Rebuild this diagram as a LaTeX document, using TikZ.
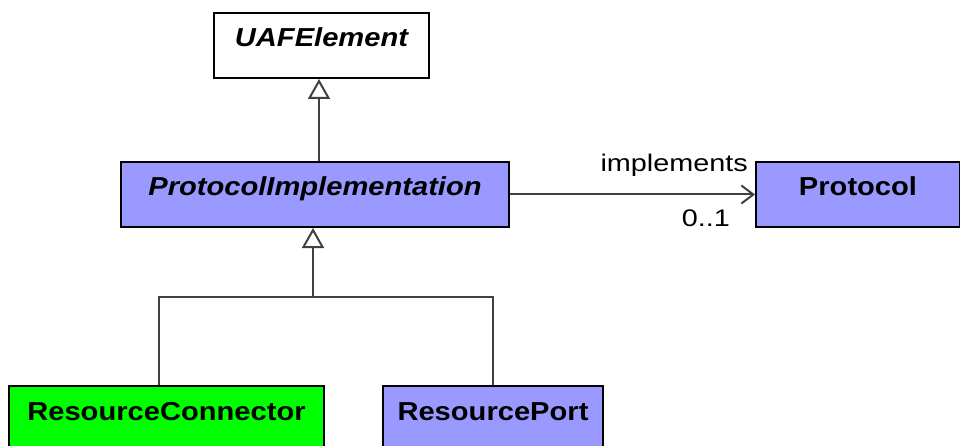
\documentclass[tikz,border=0pt]{standalone}
\usepackage{fontspec}
\newfontfamily\uafbold[FakeStretch=1.12]{Liberation Sans}
\newfontfamily\uafreg[FakeStretch=1.2]{Liberation Sans}
\usetikzlibrary{arrows.meta}
\definecolor{uafblue}{HTML}{9999FF}
\definecolor{uafgreen}{HTML}{00FF00}
\definecolor{linegrey}{HTML}{404040}
\begin{document}
\begin{tikzpicture}[x=1pt,y=-1pt,
  cls/.style={draw=black, line width=2pt, rectangle, inner sep=0pt,
    text height=34pt, text depth=31pt, anchor=north west,
    font=\uafbold\fontsize{26}{30}\selectfont\bfseries},
  conn/.style={draw=linegrey, line width=2pt},
  gen/.style={conn, -{Triangle[open, length=20pt, width=22pt, line width=2pt, fill=white]}},
  assoc/.style={conn, -{Straight Barb[length=12pt, width=18pt, line width=2pt]}},
  lbl/.style={font=\uafreg\fontsize{24}{28}\selectfont, inner sep=0pt}
]
\useasboundingbox (0,0) rectangle (960,446);
\node[cls, fill=white, minimum width=215pt] (uaf) at (213,12) {\itshape UAFElement};
\node[cls, fill=uafblue, minimum width=388pt] (pi) at (120,161) {\itshape ProtocolImplementation};
\node[cls, fill=uafblue, minimum width=204pt] (proto) at (755,161) {Protocol};
\node[cls, fill=uafgreen, minimum width=315pt] (rc) at (8,385) {ResourceConnector};
\node[cls, fill=uafblue, minimum width=220pt] (rp) at (382,385) {ResourcePort};

\coordinate (j) at (313,297);
\draw[conn] ([xshift=-7.5pt]rc.north) |- (j);
\draw[conn] (rp.north) |- (j);
\draw[gen] (j) -- (j |- pi.south);

\draw[gen] ([xshift=4pt]pi.north) -- ([xshift=4pt]pi.north |- uaf.south);

\draw[assoc] (pi.east) -- (proto.west);
\node[lbl, anchor=base east] (impl) at (748,172) {implements};
\node[lbl, anchor=base east] (mult) at (730,226) {0..1};
\end{tikzpicture}
\end{document}
